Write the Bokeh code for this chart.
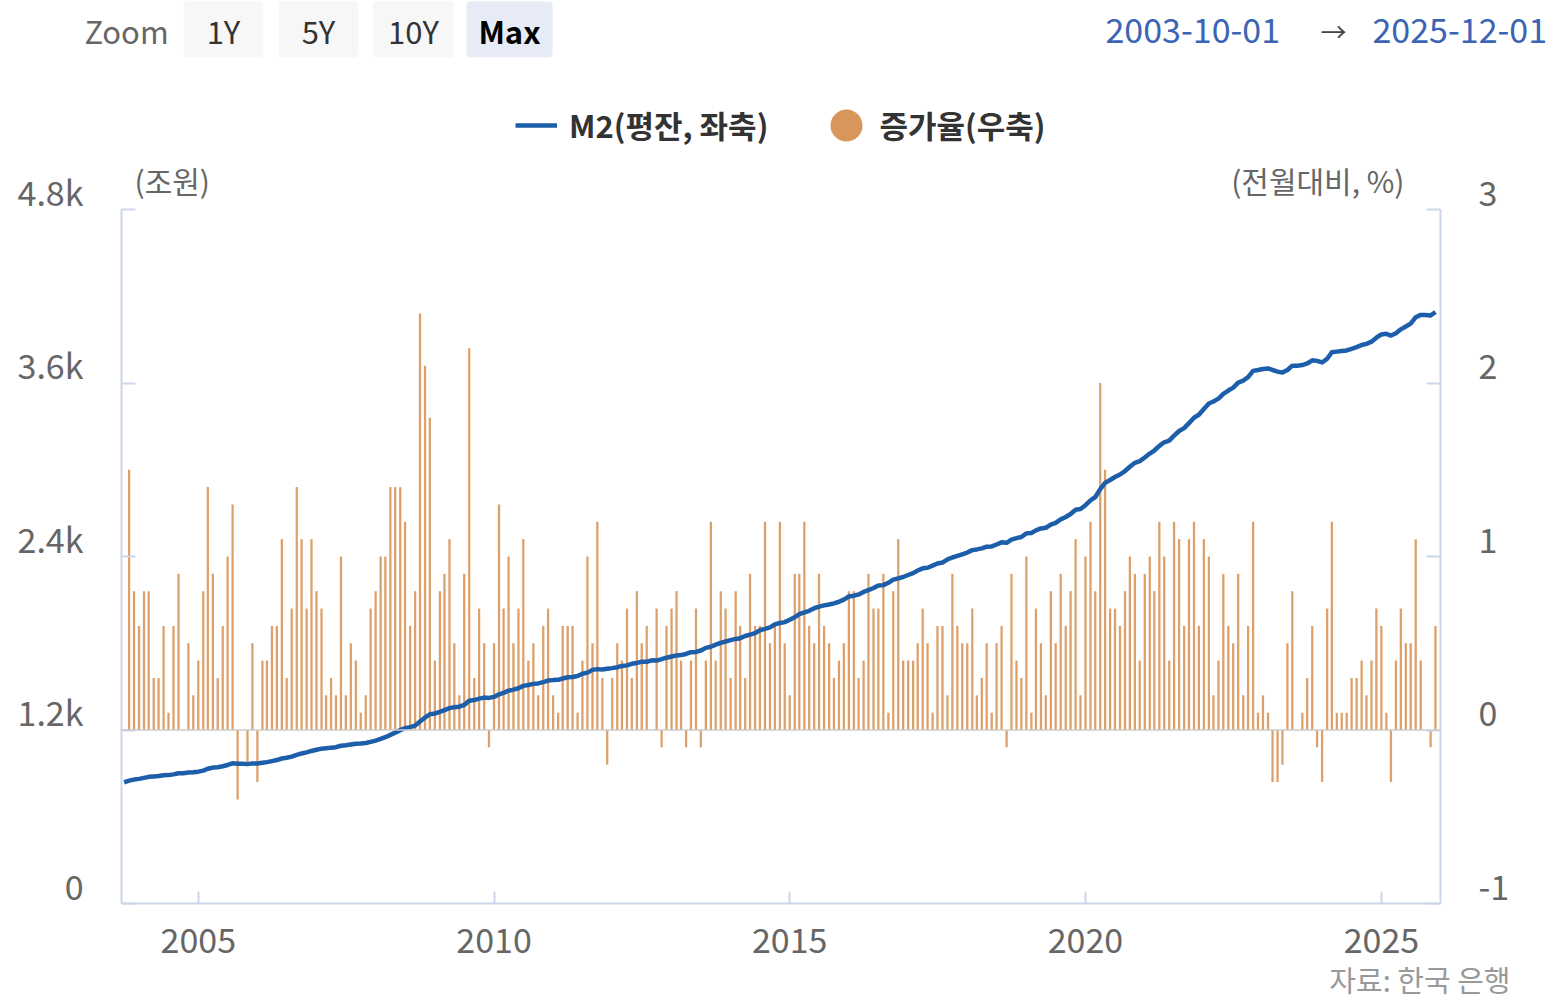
import pandas as pd
from bokeh.plotting import figure
from bokeh.models import (LinearAxis, Range1d, FixedTicker, Legend, LegendItem,
                          Label, Span, ColumnDataSource, Title)
from bokeh.embed import file_html
from bokeh.resources import INLINE

FONT = "Noto Sans CJK KR"

# ---------------- data ----------------
m2_start = "2003-10-01"
m2_values = [
    838, 850, 857,
    862, 869, 876, 879, 882, 887, 888, 893, 901, 901, 906, 908,
    912, 919, 932, 940, 943, 949, 958, 970, 966, 966, 964, 969,
    968, 973, 978, 985, 992, 1003, 1008, 1016, 1028, 1038, 1045, 1055,
    1063, 1071, 1074, 1078, 1081, 1091, 1094, 1100, 1105, 1107, 1110, 1118,
    1127, 1138, 1150, 1166, 1182, 1199, 1213, 1220, 1230, 1259, 1286, 1309,
    1314, 1325, 1337, 1351, 1358, 1361, 1373, 1403, 1407, 1417, 1424, 1422,
    1429, 1447, 1457, 1472, 1479, 1489, 1505, 1511, 1519, 1522, 1531, 1542,
    1545, 1547, 1556, 1565, 1567, 1573, 1589, 1597, 1616, 1621, 1618, 1623,
    1628, 1634, 1643, 1647, 1658, 1664, 1672, 1672, 1682, 1680, 1690, 1700,
    1708, 1716, 1718, 1726, 1738, 1740, 1750, 1768, 1776, 1790, 1803, 1812,
    1822, 1830, 1835, 1850, 1860, 1870, 1890, 1899, 1910, 1930, 1940, 1946,
    1962, 1980, 2002, 2014, 2024, 2042, 2053, 2062, 2068, 2076, 2087, 2102,
    2123, 2129, 2137, 2155, 2168, 2182, 2200, 2202, 2218, 2240, 2249, 2258,
    2272, 2285, 2303, 2318, 2322, 2337, 2352, 2358, 2380, 2393, 2404, 2415,
    2427, 2444, 2449, 2456, 2468, 2470, 2483, 2498, 2495, 2517, 2527, 2535,
    2560, 2563, 2581, 2594, 2599, 2620, 2633, 2657, 2673, 2694, 2723, 2728,
    2755, 2788, 2810, 2866, 2909, 2929, 2950, 2967, 2991, 3021, 3048, 3060,
    3085, 3112, 3133, 3165, 3190, 3202, 3236, 3268, 3288, 3322, 3360, 3380,
    3420, 3458, 3472, 3492, 3525, 3548, 3568, 3603, 3617, 3640, 3684, 3690,
    3697, 3701, 3690, 3679, 3672, 3690, 3720, 3720, 3724, 3735, 3757, 3753,
    3742, 3768, 3813, 3817, 3821, 3825, 3836, 3848, 3863, 3871, 3886, 3913,
    3936, 3940, 3928, 3944, 3971, 3991, 4011, 4055, 4071, 4071, 4067, 4091,
]

growth_start = "2003-11-01"
growth_values = [
    1.5, 0.8, 0.6, 0.8, 0.8, 0.3, 0.3, 0.6, 0.1, 0.6, 0.9, 0.0, 0.5, 0.2, 0.4, 0.8,
    1.4, 0.9, 0.3, 0.6, 1.0, 1.3, -0.4, 0.0, -0.2, 0.5, -0.3, 0.4, 0.4, 0.6, 0.6,
    1.1, 0.3, 0.7, 1.4, 1.1, 0.7,
    1.1, 0.8, 0.7, 0.2, 0.3, 0.2, 1.0, 0.2, 0.5, 0.4, 0.1, 0.2, 0.7, 0.8, 1.0, 1.0,
    1.4, 1.4, 1.4, 1.2, 0.6, 0.8, 2.4, 2.1, 1.8, 0.4, 0.8, 0.9, 1.1, 0.5, 0.2, 0.9,
    2.2, 0.3, 0.7, 0.5, -0.1, 0.5,
    1.3, 0.7, 1.0, 0.5, 0.7, 1.1, 0.4, 0.5, 0.2, 0.6, 0.7, 0.2, 0.1, 0.6, 0.6, 0.6,
    0.1, 0.4, 1.0, 0.5, 1.2, 0.3, -0.2, 0.3, 0.5, 0.4, 0.7, 0.3, 0.8, 0.5, 0.6, 0.0,
    0.7, -0.1, 0.6, 0.7, 0.8, 0.4,
    -0.1, 0.4, 0.7, -0.1, 0.4, 1.2, 0.4, 0.8, 0.7, 0.3, 0.8, 0.6, 0.3, 0.9, 0.6, 0.6,
    1.2, 0.5, 0.6, 1.2, 0.5, 0.2, 0.9, 0.9, 1.2, 0.6, 0.5, 0.9, 0.6, 0.5, 0.3, 0.4,
    0.5, 0.8, 0.8, 0.3, 0.4,
    0.9, 0.7, 0.7, 0.9, 0.1, 0.8, 1.1, 0.4, 0.4, 0.4, 0.5, 0.7, 0.5, 0.1, 0.6, 0.6,
    0.2, 0.9, 0.6, 0.5, 0.5, 0.7, 0.2, 0.3, 0.5, 0.1, 0.5, 0.6, -0.1, 0.9, 0.4, 0.3,
    1.0, 0.1, 0.7, 0.5, 0.2,
    0.8, 0.5, 0.9, 0.6, 0.8, 1.1, 0.2, 1.0, 1.2, 0.8, 2.0, 1.5, 0.7, 0.7, 0.6, 0.8,
    1.0, 0.9, 0.4, 0.9, 1.0, 0.8, 1.2, 1.0, 0.4, 1.2, 1.1, 0.6, 1.1, 1.2, 0.6, 1.1,
    1.0, 0.2, 0.4, 0.9, 0.6, 0.5,
    0.9, 0.2, 0.6, 1.2, 0.1, 0.2, 0.1, -0.3, -0.3, -0.2, 0.5, 0.8, 0.0, 0.1, 0.3, 0.6,
    -0.1, -0.3, 0.7, 1.2, 0.1, 0.1, 0.1, 0.3, 0.3, 0.4, 0.2, 0.4, 0.7, 0.6, 0.1, -0.3,
    0.4, 0.7, 0.5, 0.5, 1.1, 0.4, 0.0, -0.1, 0.6,
]

x_tick_years = [2005, 2010, 2015, 2020, 2025]
left_ticks = [0, 1200, 2400, 3600, 4800]
left_tick_labels = ["0", "1.2k", "2.4k", "3.6k", "4.8k"]
right_ticks = [-1, 0, 1, 2, 3]
right_tick_labels = ["-1", "0", "1", "2", "3"]
axis_titles = ["(조원)", "(전월대비, %)"]
axis_title_pos = [0.0385, 0.907]          # fraction of plot width
series_names = ["M2(평잔, 좌축)", "증가율(우축)"]
zoom_buttons = ["1Y", "5Y", "10Y", "Max"]
range_from = "2003-10-01"
range_to = "2025-12-01"
source_note = "자료: 한국 은행"

W = 1560
HEAD_H = 150
MAIN_H = 1003 - HEAD_H
LINE_COLOR = "#1c5ea9"
BAR_COLOR = "#d9965a"

m2_dates = pd.date_range(m2_start, periods=len(m2_values), freq="MS")
g_dates = pd.date_range(growth_start, periods=len(growth_values), freq="MS")
line_src = ColumnDataSource(dict(date=m2_dates, m2=m2_values))
bar_src = ColumnDataSource(dict(date=g_dates, g=growth_values))

# ---------------- header: range selector + legend ----------------
h = figure(width=W, height=HEAD_H, x_range=Range1d(0, W), y_range=Range1d(HEAD_H, 0),
           x_axis_location=None, y_axis_location=None,
           output_backend="svg", toolbar_location=None,
           min_border=0, outline_line_color=None,
           background_fill_color="white", border_fill_color="white")
h.grid.visible = False


def hlab(text, px, py, size="31px", color="#666666", align="left", style="normal", **kw):
    h.add_layout(Label(x=px, y=py, text=text, text_font=FONT, text_font_size=size,
                       text_color=color, text_align=align, text_baseline="middle",
                       text_font_style=style, **kw))


hlab("Zoom", 126, 30, align="center")
btn_pad = {"1Y": 23, "5Y": 23, "10Y": 15, "Max": 12}
for name, cx in zip(zoom_buttons, [223, 318, 413, 509]):
    active = name == "Max"
    hlab(name, cx, 29, align="center",
         color="#000000" if active else "#333333",
         style="bold" if active else "normal",
         background_fill_color="#e6ebf5" if active else "#f7f7f7",
         border_radius=4,
         padding=dict(left=btn_pad[name], right=btn_pad[name], top=6, bottom=5))
hlab(range_from, 1105, 30, size="34px", color="#3c64b4")
hlab("→", 1333, 30, size="26px", color="#444444", align="center")
hlab(range_to, 1372, 30, size="34px", color="#3c64b4")

# legend proxies (invisible renderers sharing the chart's data)
proxy_line = h.line("date", "m2", source=line_src, line_color=LINE_COLOR,
                    line_width=4.5, visible=False)
proxy_dot = h.scatter("date", "g", source=bar_src, marker="circle", size=16,
                      fill_color=BAR_COLOR, line_color=BAR_COLOR, line_width=16,
                      visible=False)
legend = Legend(items=[LegendItem(label=series_names[0], renderers=[proxy_line]),
                       LegendItem(label=series_names[1], renderers=[proxy_dot])],
                location=(515, HEAD_H - 147), orientation="horizontal",
                glyph_width=42, glyph_height=40, label_height=40,
                label_standoff=12, spacing=57, padding=0, margin=0,
                border_line_alpha=0, background_fill_alpha=0,
                inactive_fill_alpha=0,
                label_text_font=FONT, label_text_font_size="31px",
                label_text_font_style="bold", label_text_color="#333333")
h.add_layout(legend)

# ---------------- main chart ----------------
p = figure(width=W, height=MAIN_H, x_axis_type="datetime",
           x_range=Range1d(pd.Timestamp("2003-09-15"), pd.Timestamp("2026-01-01")),
           y_range=Range1d(0, 4800),
           output_backend="svg", toolbar_location=None,
           min_border_left=121, min_border_right=W - 1440,
           min_border_top=209 - HEAD_H, min_border_bottom=HEAD_H + MAIN_H - 903,
           background_fill_color="white", border_fill_color="white",
           outline_line_color=None)
p.extra_y_ranges = {"pct": Range1d(-1, 3)}
p.extra_x_ranges = {"frac": Range1d(0, 1)}
p.grid.visible = False

AX = "#ccd6eb"


def style_axis(ax, standoff, size="34px"):
    ax.axis_line_color = AX
    ax.axis_line_width = 2
    ax.major_tick_line_color = AX
    ax.major_tick_line_width = 2
    ax.major_tick_out = 0
    ax.minor_tick_line_color = None
    ax.major_label_text_font = FONT
    ax.major_label_text_font_size = size
    ax.major_label_text_color = "#666666"
    ax.major_label_standoff = standoff


xax = p.xaxis[0]
xax.ticker = FixedTicker(ticks=[pd.Timestamp(f"{y}-01-01").value // 10**6 for y in x_tick_years])
style_axis(xax, 24)
xax.major_tick_in = 12

yax = p.yaxis[0]
yax.ticker = FixedTicker(ticks=left_ticks)
yax.major_label_overrides = {t: lbl + "\n" for t, lbl in zip(left_ticks, left_tick_labels)}
style_axis(yax, 38)
yax.major_tick_in = 14
yax.major_label_text_line_height = 0.75

rax = LinearAxis(y_range_name="pct", ticker=FixedTicker(ticks=right_ticks))
rax.major_label_overrides = {t: lbl + "\n" for t, lbl in zip(right_ticks, right_tick_labels)}
style_axis(rax, 38)
rax.major_tick_in = 14
rax.major_label_text_line_height = 0.75
p.add_layout(rax, "right")

# axis unit titles placed above the plot area
tax = LinearAxis(x_range_name="frac", ticker=FixedTicker(ticks=axis_title_pos))
tax.major_label_overrides = dict(zip(axis_title_pos, axis_titles))
style_axis(tax, 8, size="30px")
tax.axis_line_color = None
tax.major_tick_line_color = None
tax.major_tick_in = 0
p.add_layout(tax, "above")

p.add_layout(Span(location=0, dimension="width", y_range_name="pct",
                  line_color="#cccccc", line_width=1.5))

bars = p.vbar(x="date", top="g", bottom=0, width=14 * 24 * 3600 * 1000,
              source=bar_src, y_range_name="pct",
              fill_color=BAR_COLOR, fill_alpha=0.9, line_color=None)
line = p.line("date", "m2", source=line_src, line_color=LINE_COLOR,
              line_width=4.5, line_join="round")

p.add_layout(Title(text=source_note, align="right", offset=-70, standoff=0,
                   text_font=FONT, text_font_size="29px", text_font_style="normal",
                   text_color="#999999"), "below")

open("out.html", "w").write(file_html([h, p], INLINE))
